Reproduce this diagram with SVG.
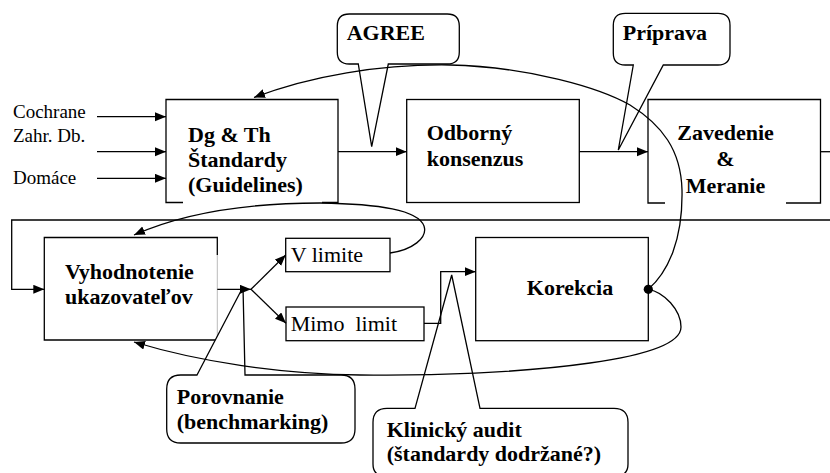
<svg xmlns="http://www.w3.org/2000/svg" width="830" height="473" viewBox="0 0 830 473">
<style>
.ln{fill:none;stroke:#000;stroke-width:1.3}
.bx{fill:#fff;stroke:#000;stroke-width:1.3}
.gap{fill:none;stroke:#000;stroke-width:1.3}
text{font-family:'Liberation Serif','DejaVu Serif',serif;fill:#000}
.b{font-weight:bold;font-size:22px}
.n{font-size:22px}
.s{font-size:19px}
</style>
<defs>
<marker id="ah" markerUnits="userSpaceOnUse" markerWidth="12" markerHeight="10" refX="11" refY="4.5" orient="auto">
<path d="M0,0 L11,4.5 L0,9 z" fill="#000"/>
</marker>
</defs>
<rect width="830" height="473" fill="#fff"/>

<g id="inputs" font-family="Liberation Serif, serif">
<text class="s" x="13" y="118">Cochrane</text>
<text class="s" x="13" y="142">Zahr. Db.</text>
<text class="s" x="13" y="184">Domáce</text>
</g>

<g id="dg-th">
<path class="gap" d="M183,202.5 L166,202.5 L166,99.5 L338,99.5 L338,202.5 L322,202.5"/>
<text class="b" x="188" y="142">Dg &amp; Th</text>
<text class="b" x="188" y="167">Štandardy</text>
<text class="b" x="188" y="192">(Guidelines)</text>
</g>

<g id="odborny">
<rect class="bx" x="406.7" y="99.5" width="172.6" height="103"/>
<text class="b" x="426.7" y="140">Odborný</text>
<text class="b" x="426.7" y="166">konsenzus</text>
</g>

<g id="zavedenie">
<path class="gap" d="M665,203 L648,203 L648,99.5 L820.5,99.5 L820.5,203 L786,203"/>
<text class="b" x="725.5" y="140" text-anchor="middle">Zavedenie</text>
<text class="b" x="725.5" y="166" text-anchor="middle">&amp;</text>
<text class="b" x="725.5" y="192.5" text-anchor="middle">Meranie</text>
</g>

<g id="vyhodnotenie">
<path class="gap" d="M217.3,255 L217.3,237.5 L44.3,237.5 L44.3,340 L217.3,340"/>
<line x1="217.3" y1="255" x2="217.3" y2="340" stroke="#bbb" stroke-width="1"/>
<text class="b" x="65" y="278.5">Vyhodnotenie</text>
<text class="b" x="65" y="304">ukazovateľov</text>
</g>

<g id="v-limite">
<rect class="bx" x="285.7" y="238.3" width="104.3" height="33.4"/>
<text class="n" x="290.7" y="262">V limite</text>
</g>

<g id="mimo-limit">
<rect class="bx" x="286" y="307" width="138" height="33.7"/>
<text class="n" x="290.7" y="331" xml:space="preserve">Mimo  limit</text>
</g>

<g id="korekcia">
<rect class="bx" x="475.7" y="237.5" width="172.6" height="103.2"/>
<text class="b" x="570" y="295" text-anchor="middle">Korekcia</text>
</g>

<g id="agree">
<path class="bx" d="M358.3,64 L371.7,146.7 L388.3,64 L447.3,64 Q459.3,64 459.3,52 L459.3,26 Q459.3,14 447.3,14 L349.3,14 Q337.3,14 337.3,26 L337.3,52 Q337.3,64 349.3,64 Z"/>
<text class="b" x="346.7" y="39.5">AGREE</text>
</g>

<g id="priprava">
<path class="bx" d="M633.3,65 L618.3,150 L663.3,65 L718,65 Q730,65 730,53 L730,25.3 Q730,13.3 718,13.3 L625.3,13.3 Q613.3,13.3 613.3,25.3 L613.3,53 Q613.3,65 625.3,65 Z"/>
<text class="b" x="622.7" y="39.5">Príprava</text>
</g>

<g id="porovnanie">
<path class="bx" d="M197,375 L243,287 L245,375 L341,375 Q355,375 355,389 L355,429 Q355,443 341,443 L180.7,443 Q166.7,443 166.7,429 L166.7,389 Q166.7,375 180.7,375 Z"/>
<text class="b" x="176.7" y="403.5">Porovnanie</text>
<text class="b" x="176.7" y="428.5">(benchmarking)</text>
</g>

<g id="klinicky-audit">
<path class="bx" d="M415,408.3 L451.7,275 L480,408.3 L614,408.3 Q628,408.3 628,422.3 L628,464 Q628,476 616,476 L385,476 Q373,476 373,464 L373,422.3 Q373,408.3 387,408.3 Z"/>
<text class="b" x="386.7" y="437">Klinický audit</text>
<text class="b" x="386.7" y="461">(štandardy dodržané?)</text>
</g>

<g id="connectors">
<line class="ln" x1="97" y1="116.7" x2="166" y2="116.7" marker-end="url(#ah)"/>
<line class="ln" x1="97" y1="151.7" x2="166" y2="151.7" marker-end="url(#ah)"/>
<line class="ln" x1="97" y1="178.3" x2="166" y2="178.3" marker-end="url(#ah)"/>
<line class="ln" x1="338" y1="151.7" x2="406.7" y2="151.7" marker-end="url(#ah)"/>
<line class="ln" x1="579.3" y1="151.7" x2="648" y2="151.7" marker-end="url(#ah)"/>
<line class="ln" x1="820.5" y1="151.7" x2="832" y2="151.7"/>
<path class="ln" d="M832,220 L11.7,220 L11.7,289.3 L44.3,289.3" marker-end="url(#ah)"/>
<line class="ln" x1="217.3" y1="289.3" x2="251" y2="289.3" marker-end="url(#ah)"/>
<line class="ln" x1="251" y1="289.3" x2="285.7" y2="255" marker-end="url(#ah)"/>
<line class="ln" x1="251" y1="289.3" x2="286" y2="323.3" marker-end="url(#ah)"/>
<path class="ln" d="M424,323.3 L440.7,323.3 L440.7,271.7 L475.7,271.7" marker-end="url(#ah)"/>
<path class="ln" d="M390,253 C412,250 428,238 424,226 C418,210 380,204 320,203 C260,203 190,210 134,235" marker-end="url(#ah)"/>
<path class="ln" d="M648.3,289.3 C668,272 683,240 682,190 C681,150 662,125 630,105 C600,88 530,67 450,65 C380,64 310,76 254,97.5" marker-end="url(#ah)"/>
<path class="ln" d="M648.3,289.3 C664,292 681,310 681,327 C681,345 640,356 590,363 C520,373 430,376 360,375 C280,374 200,362 134,342" marker-end="url(#ah)"/>
<circle cx="648.3" cy="289.3" r="4.6" fill="#000"/>
</g>
</svg>
